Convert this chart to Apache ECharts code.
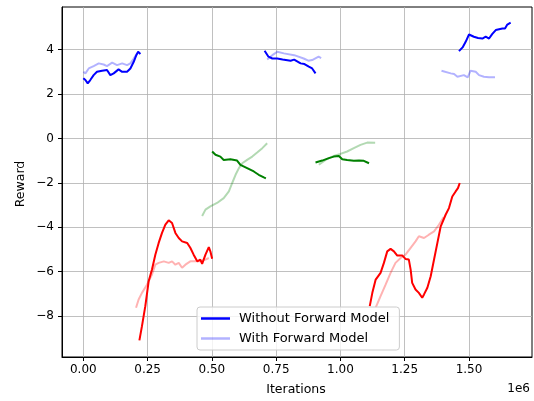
<!DOCTYPE html>
<html>
<head>
<meta charset="utf-8">
<script src="https://cdn.jsdelivr.net/npm/echarts@6/dist/echarts.min.js"></script>
<style>html,body{margin:0;padding:0;background:#fff}#c{width:534px;height:401px}</style>
</head>
<body>
<div id="c"></div>
<script>
// x values in units of 1e6 iterations
const xTicks = [0, 0.25, 0.5, 0.75, 1.0, 1.25, 1.5];
const yTicks = [-8, -6, -4, -2, 0, 2, 4];

// Without Forward Model (blue)
const blueDark1 = [[0.0,2.71],[0.008,2.63],[0.017,2.48],[0.027,2.63],[0.04,2.85],[0.053,3.0],[0.073,3.05],[0.092,3.08],[0.105,2.85],[0.118,2.93],[0.125,3.0],[0.137,3.11],[0.151,3.0],[0.17,3.0],[0.183,3.15],[0.196,3.45],[0.206,3.75],[0.213,3.9],[0.222,3.8]];
const blueDark2 = [[0.705,3.95],[0.72,3.68],[0.735,3.6],[0.754,3.6],[0.775,3.55],[0.806,3.5],[0.82,3.55],[0.845,3.38],[0.86,3.35],[0.877,3.23],[0.89,3.15],[0.903,2.93]];
const blueDark3 = [[1.461,3.93],[1.475,4.1],[1.487,4.35],[1.5,4.68],[1.519,4.58],[1.535,4.52],[1.552,4.5],[1.565,4.58],[1.578,4.5],[1.59,4.7],[1.604,4.88],[1.63,4.95],[1.64,4.95],[1.649,5.13],[1.662,5.22]];
// With Forward Model (light blue)
const blueLight1 = [[0.0,3.0],[0.008,2.93],[0.021,3.15],[0.04,3.26],[0.06,3.38],[0.079,3.33],[0.092,3.26],[0.112,3.41],[0.131,3.3],[0.151,3.38],[0.17,3.3],[0.183,3.38],[0.196,3.6],[0.209,3.83]];
const blueLight2 = [[0.715,3.55],[0.735,3.75],[0.754,3.9],[0.78,3.83],[0.82,3.75],[0.857,3.6],[0.875,3.5],[0.89,3.53],[0.915,3.68],[0.925,3.62]];
const blueLight3 = [[1.393,3.05],[1.429,2.93],[1.442,2.9],[1.455,2.78],[1.48,2.85],[1.495,2.75],[1.506,3.05],[1.526,3.0],[1.539,2.85],[1.558,2.78],[1.578,2.75],[1.601,2.75]];

// green
const greenDark1 = [[0.501,-0.59],[0.514,-0.74],[0.533,-0.82],[0.546,-0.97],[0.572,-0.94],[0.598,-1.0],[0.611,-1.19],[0.637,-1.34],[0.663,-1.49],[0.682,-1.64],[0.702,-1.76],[0.71,-1.8]];
const greenLight1 = [[0.462,-3.5],[0.475,-3.21],[0.494,-3.06],[0.52,-2.91],[0.546,-2.69],[0.566,-2.39],[0.579,-2.01],[0.592,-1.64],[0.605,-1.34],[0.618,-1.12],[0.637,-0.97],[0.657,-0.82],[0.676,-0.64],[0.696,-0.44],[0.715,-0.22]];
const greenDark2 = [[0.903,-1.09],[0.929,-1.0],[0.955,-0.89],[0.974,-0.82],[0.994,-0.79],[1.007,-0.94],[1.026,-0.97],[1.052,-1.01],[1.072,-1.0],[1.091,-1.01],[1.111,-1.12]];
const greenLight2 = [[0.916,-1.19],[0.942,-0.97],[0.974,-0.79],[1.0,-0.7],[1.026,-0.59],[1.052,-0.44],[1.078,-0.29],[1.104,-0.19],[1.135,-0.2]];

// red
const redDark1 = [[0.218,-9.1],[0.228,-8.46],[0.241,-7.56],[0.254,-6.44],[0.267,-5.91],[0.28,-5.24],[0.293,-4.71],[0.306,-4.26],[0.319,-3.89],[0.332,-3.69],[0.345,-3.81],[0.358,-4.26],[0.371,-4.49],[0.384,-4.64],[0.404,-4.71],[0.416,-4.93],[0.429,-5.24],[0.443,-5.54],[0.455,-5.46],[0.462,-5.65],[0.475,-5.24],[0.488,-4.9],[0.494,-5.09],[0.501,-5.42]];
const redLight1 = [[0.205,-7.63],[0.215,-7.26],[0.228,-6.96],[0.248,-6.58],[0.267,-6.13],[0.28,-5.69],[0.293,-5.61],[0.313,-5.54],[0.332,-5.61],[0.345,-5.54],[0.358,-5.69],[0.371,-5.61],[0.384,-5.83],[0.397,-5.69],[0.416,-5.54],[0.436,-5.54],[0.455,-5.54],[0.475,-5.46],[0.488,-5.39]];
const redDark2 = [[1.114,-7.56],[1.124,-6.96],[1.137,-6.36],[1.156,-6.06],[1.169,-5.61],[1.182,-5.09],[1.195,-4.98],[1.208,-5.09],[1.221,-5.28],[1.241,-5.28],[1.253,-5.43],[1.266,-5.46],[1.273,-5.91],[1.279,-6.51],[1.292,-6.81],[1.305,-6.96],[1.318,-7.18],[1.325,-7.03],[1.338,-6.73],[1.351,-6.21],[1.364,-5.46],[1.377,-4.71],[1.39,-3.96],[1.409,-3.44],[1.422,-3.14],[1.435,-2.62],[1.448,-2.39],[1.457,-2.24],[1.464,-2.01]];
const redLight2 = [[1.137,-7.63],[1.156,-7.11],[1.176,-6.58],[1.195,-6.06],[1.214,-5.61],[1.234,-5.39],[1.253,-5.24],[1.273,-4.93],[1.292,-4.64],[1.305,-4.41],[1.325,-4.49],[1.344,-4.34],[1.364,-4.19],[1.383,-3.89],[1.401,-3.55]];

const NAME_A = 'Without Forward Model';
const NAME_B = 'With Forward Model';
const FONT = 'DejaVu Sans';

function seg(name, data, color, opacity) {
  return {
    type: 'line', name: name, data: data, showSymbol: false, symbol: 'none',
    lineStyle: {color: color, width: 2, opacity: opacity},
    itemStyle: {color: color, opacity: opacity},
    emphasis: {disabled: true}, z: opacity < 1 ? 2 : 3
  };
}

const series = [
  seg(NAME_A, blueDark1, '#0000ff', 1),
  seg(NAME_B, blueLight1, '#0000ff', 0.3),
  seg(NAME_A, blueDark2, '#0000ff', 1),
  seg(NAME_B, blueLight2, '#0000ff', 0.3),
  seg(NAME_A, blueDark3, '#0000ff', 1),
  seg(NAME_B, blueLight3, '#0000ff', 0.3),
  seg('g1', greenDark1, '#008000', 1),
  seg('g1l', greenLight1, '#008000', 0.3),
  seg('g2', greenDark2, '#008000', 1),
  seg('g2l', greenLight2, '#008000', 0.3),
  seg('r1', redDark1, '#ff0000', 1),
  seg('r1l', redLight1, '#ff0000', 0.3),
  seg('r2', redDark2, '#ff0000', 1),
  seg('r2l', redLight2, '#ff0000', 0.3)
];

const chart = echarts.init(document.getElementById('c'), null, {renderer: 'canvas'});
chart.setOption({
  animation: false,
  backgroundColor: '#ffffff',
  textStyle: {fontFamily: FONT},
  grid: {left: 62, right: 2, top: 7, bottom: 44, show: true, borderColor: '#000', borderWidth: 1, backgroundColor: 'transparent'},
  legend: {
    data: [NAME_A, NAME_B], orient: 'vertical', left: 197, top: 307,
    icon: 'rect',
    padding: [5, 10, 5, 4], itemGap: 7, itemWidth: 29, itemHeight: 2.5,
    backgroundColor: 'rgba(255,255,255,0.8)', borderColor: '#cccccc', borderWidth: 1, borderRadius: 3,
    textStyle: {fontFamily: FONT, fontSize: 13, color: '#000', padding: [0, 0, 0, 4]},
    selectedMode: false
  },
  xAxis: {
    type: 'value', min: -0.083, max: 1.745,
    axisLine: {show: true, onZero: false, lineStyle: {color: '#000', width: 1}},
    axisTick: {show: true, length: 4, lineStyle: {color: '#000'}, customValues: xTicks},
    axisLabel: {customValues: xTicks, formatter: v => v.toFixed(2), color: '#000', fontSize: 12, fontFamily: FONT, margin: 7},
    splitLine: {show: true, lineStyle: {color: '#b0b0b0', width: 0.8}}
  },
  yAxis: {
    type: 'value', min: -9.85, max: 5.92,
    axisLine: {show: true, onZero: false, lineStyle: {color: '#000', width: 1}},
    axisTick: {show: true, length: 4, lineStyle: {color: '#000'}, customValues: yTicks},
    axisLabel: {customValues: yTicks, formatter: v => (v < 0 ? '\u2212' + Math.abs(v) : String(v)), color: '#000', fontSize: 12, fontFamily: FONT, margin: 8},
    splitLine: {show: true, lineStyle: {color: '#b0b0b0', width: 0.8}}
  },
  graphic: [
    {type: 'text', x: 296, y: 390, style: {text: 'Iterations', fontFamily: FONT, fontSize: 12.5, fill: '#000', align: 'center', verticalAlign: 'middle'}},
    {type: 'text', x: 21, y: 184, rotation: Math.PI / 2, style: {text: 'Reward', fontFamily: FONT, fontSize: 12.5, fill: '#000', align: 'center', verticalAlign: 'middle'}},
    {type: 'text', x: 530, y: 389, style: {text: '1e6', fontFamily: FONT, fontSize: 12, fill: '#000', align: 'right', verticalAlign: 'middle'}}
  ],
  series: series
});
</script>
</body>
</html>
